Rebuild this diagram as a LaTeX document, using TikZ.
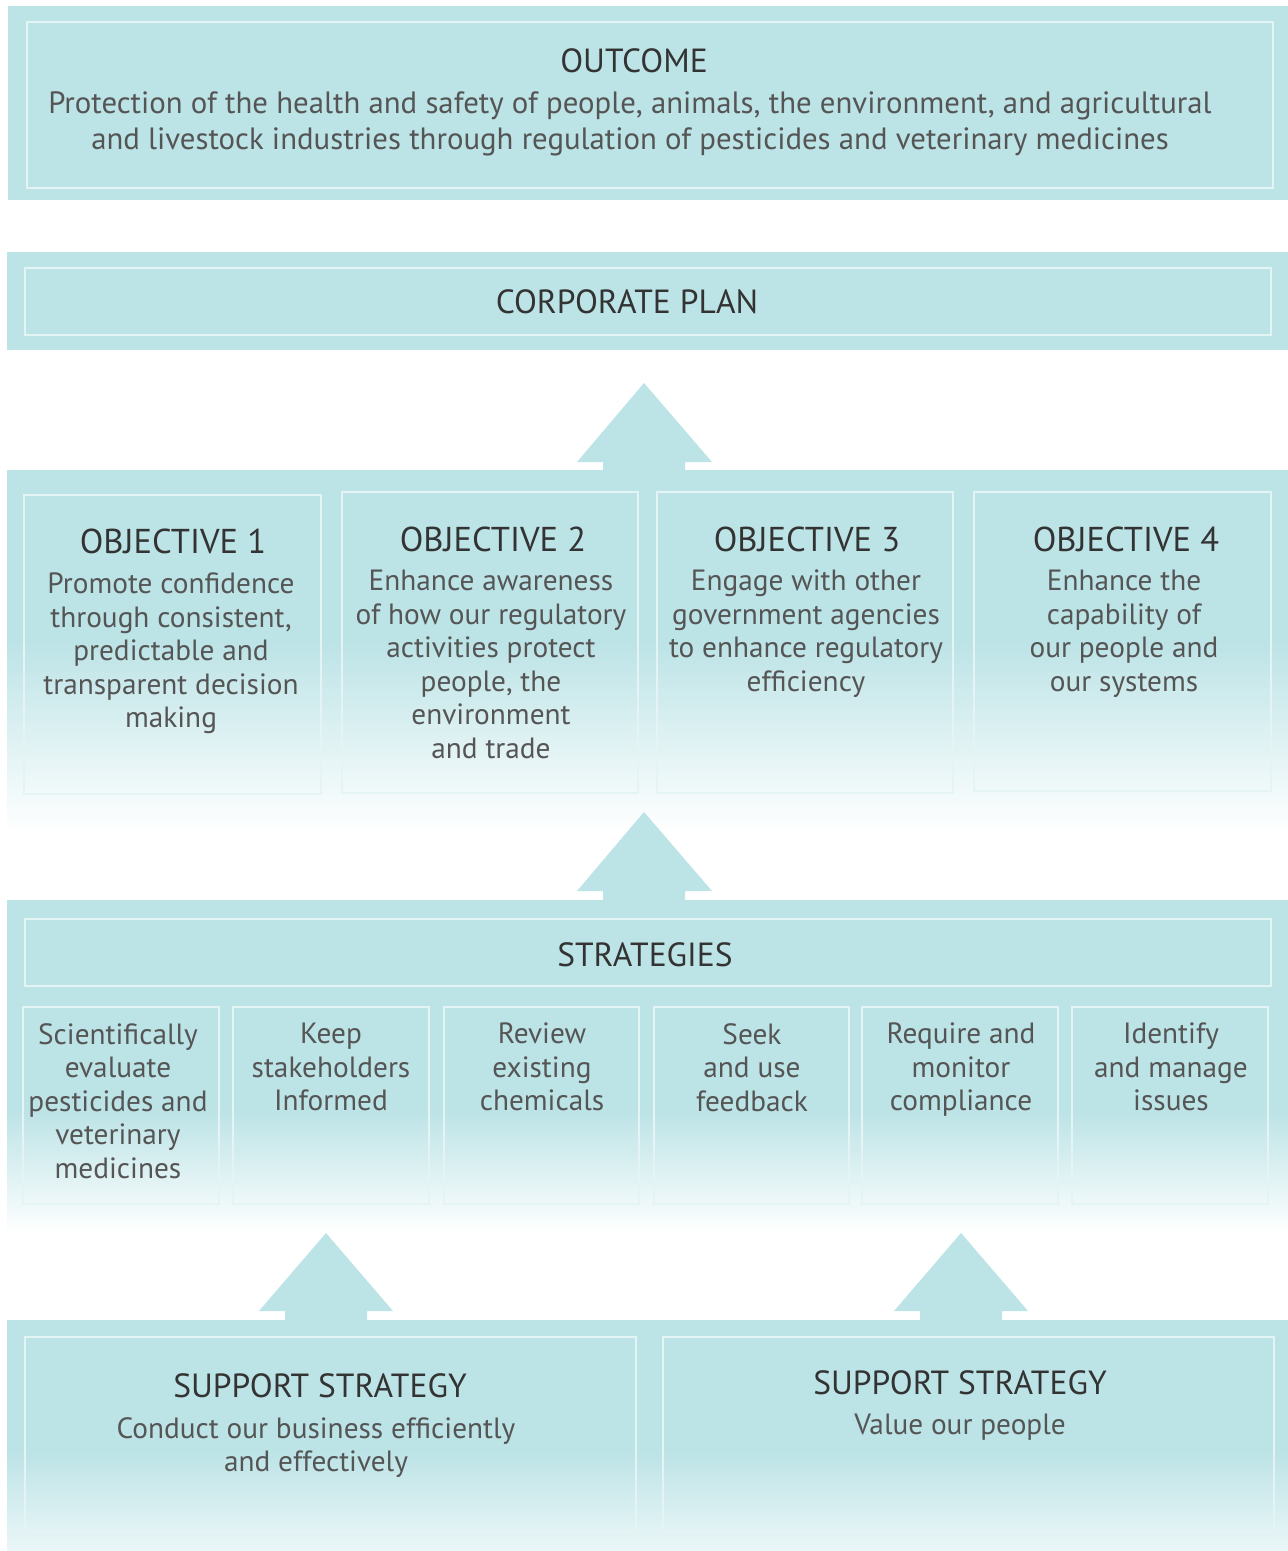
\documentclass[tikz,border=0pt]{standalone}
\usepackage{fontspec}
\setmainfont{PT Sans}
\usepackage{tikz}

\definecolor{band}{HTML}{BCE3E6}
\definecolor{boxline}{HTML}{E4F4F5}
\definecolor{headtxt}{HTML}{333333}
\definecolor{bodytxt}{HTML}{555555}

\begin{document}
\begin{tikzpicture}[x=1pt,y=-1pt,
	inbox/.style={draw=boxline,line width=2pt,inner sep=0pt,anchor=north west},
	head/.style={inner sep=0pt,text=headtxt,font=\fontsize{33.5}{38}\selectfont},
	body/.style={inner sep=0pt,anchor=north,align=center,text=bodytxt,font=\fontsize{29.3}{33.5}\selectfont}]
		\useasboundingbox[fill=white] (0,0) rectangle (1288,1551);

		% bands
		\fill[band] (8,6) rectangle (1288,200);
		\fill[band] (7,252) rectangle (1288,350);
		\fill[band] (7,470) rectangle (1288,641);
		\shade[top color=band,bottom color=white] (7,640) rectangle (1288,832);
		\fill[band] (7,900) rectangle (1288,1111);
		\shade[top color=band,bottom color=white] (7,1110) rectangle (1288,1234);
		\fill[band] (7,1320) rectangle (1288,1451);
		\shade[top color=band,bottom color=band!30!white] (7,1450) rectangle (1288,1551);

		% block arrows
		\fill[band] (644,383) -- (712,462) -- (685,462) -- (685,471) -- (603,471) -- (603,462) -- (577,462) -- cycle;
		\fill[band] (644,812) -- (712,891) -- (685,891) -- (685,901) -- (603,901) -- (603,891) -- (577,891) -- cycle;
		\fill[band] (326,1233) -- (393,1311) -- (367,1311) -- (367,1321) -- (285,1321) -- (285,1311) -- (259,1311) -- cycle;
		\fill[band] (961,1233) -- (1028,1311) -- (1002,1311) -- (1002,1321) -- (920,1321) -- (920,1311) -- (894,1311) -- cycle;

		% outcome
		\node[inbox,minimum width=1246,minimum height=166] (outbox) at (26,21) {};
		\node[head] (outhead) at (634,61) {OUTCOME};
		\node[body,font=\fontsize{30.8}{36}\selectfont] (outtxt) at (630,91) {Protection of the health and safety of people, animals, the environment, and agricultural\\and livestock industries through regulation of pesticides and veterinary medicines};

		% corporate plan
		\node[inbox,minimum width=1246,minimum height=67] (planbox) at (24,267) {};
		\node[head] (planhead) at (627,302) {CORPORATE PLAN};

		% objectives
		\node[inbox,minimum width=297,minimum height=299] (obj1) at (23,494) {};
		\node[inbox,minimum width=296,minimum height=301] (obj2) at (341,491) {};
		\node[inbox,minimum width=296,minimum height=301] (obj3) at (656,491) {};
		\node[inbox,minimum width=297,minimum height=299] (obj4) at (973,491) {};
		\node[head,font=\fontsize{34.5}{38}\selectfont] (obj1head) at (173,541) {OBJECTIVE 1};
		\node[head,font=\fontsize{34.5}{38}\selectfont] (obj2head) at (493,539) {OBJECTIVE 2};
		\node[head,font=\fontsize{34.5}{38}\selectfont] (obj3head) at (807,539) {OBJECTIVE 3};
		\node[head,font=\fontsize{34.5}{38}\selectfont] (obj4head) at (1126,539) {OBJECTIVE 4};
		\node[body] (obj1txt) at (171,573) {Promote confidence\\through consistent,\\predictable and\\transparent decision\\making};
		\node[body] (obj2txt) at (491,570) {Enhance awareness\\of how our regulatory\\activities protect\\people, the\\environment\\and trade};
		\node[body] (obj3txt) at (806,570) {Engage with other\\government agencies\\to enhance regulatory\\efficiency};
		\node[body] (obj4txt) at (1124,570) {Enhance the\\capability of\\our people and\\our systems};

		% strategies
		\node[inbox,minimum width=1246,minimum height=67] (stratbox) at (24,918) {};
		\node[head] (strathead) at (645,955) {STRATEGIES};
		\node[inbox,minimum width=196,minimum height=197] (str1) at (22,1006) {};
		\node[inbox,minimum width=196,minimum height=197] (str2) at (232,1006) {};
		\node[inbox,minimum width=195,minimum height=197] (str3) at (443,1006) {};
		\node[inbox,minimum width=195,minimum height=197] (str4) at (653,1006) {};
		\node[inbox,minimum width=196,minimum height=197] (str5) at (861,1006) {};
		\node[inbox,minimum width=196,minimum height=197] (str6) at (1071,1006) {};
		\node[body] (str1txt) at (118,1023) {Scientifically\\evaluate\\pesticides and\\veterinary\\medicines};
		\node[body] (str2txt) at (331,1023) {Keep\\stakeholders\\Informed};
		\node[body] (str3txt) at (542,1023) {Review\\existing\\chemicals};
		\node[body] (str4txt) at (752,1023) {Seek\\and use\\feedback};
		\node[body] (str5txt) at (961,1023) {Require and\\monitor\\compliance};
		\node[body] (str6txt) at (1171,1023) {Identify\\and manage\\issues};

		% support strategies
		\node[inbox,minimum width=611,minimum height=194] (sup1) at (24,1336) {};
		\node[inbox,minimum width=611,minimum height=194] (sup2) at (662,1336) {};
		\node[head] (sup1head) at (320,1386) {SUPPORT STRATEGY};
		\node[head] (sup2head) at (960,1383) {SUPPORT STRATEGY};
		\node[body] (sup1txt) at (316,1417) {Conduct our business efficiently\\and effectively};
		\node[body] (sup2txt) at (960,1414) {Value our people};
\end{tikzpicture}
\end{document}
